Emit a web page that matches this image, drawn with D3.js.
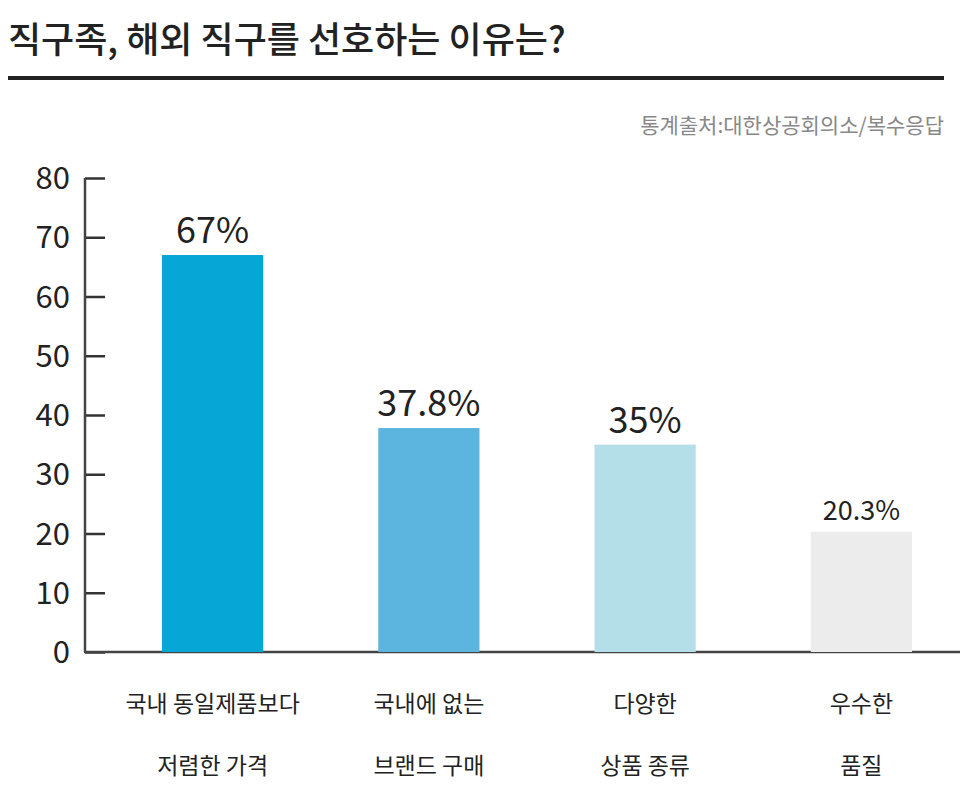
<!DOCTYPE html>
<html><head><meta charset="utf-8">
<script src="https://cdn.jsdelivr.net/npm/d3@7"></script>
<style>body{margin:0;background:#fff}text{font-family:"Noto Sans CJK KR","Liberation Sans Narrow",sans-serif}</style>
</head><body><svg id="c" width="966" height="786"></svg>
<script>
const categories = [["국내 동일제품보다","저렴한 가격"],["국내에 없는","브랜드 구매"],["다양한","상품 종류"],["우수한","품질"]];
const values = [67, 37.8, 35, 20.3];
const valueLabels = ["67%","37.8%","35%","20.3%"];
const colors = ["#06a6d6","#5bb5df","#b5dfe8","#ececec"];
const yTicks = [0,10,20,30,40,50,60,70,80];

const svg = d3.select("#c");
svg.append("text").attr("x",8).attr("y",53).attr("font-size",36).attr("font-weight",500).attr("fill","#222").text("직구족, 해외 직구를 선호하는 이유는?");
svg.append("rect").attr("x",8).attr("y",76).attr("width",936).attr("height",4).attr("fill","#222");
svg.append("text").attr("x",944).attr("y",133).attr("text-anchor","end").attr("font-size",21).attr("fill","#888").text("통계출처:대한상공회의소/복수응답");

const y = d3.scaleLinear().domain([0,80]).range([652,178]);
const x = d3.scaleBand().domain(d3.range(values.length)).range([104.5,969.5]).paddingInner(0.532).paddingOuter(0.266);

const ax = svg.append("g").attr("transform","translate(85,0)")
  .call(d3.axisRight(y).tickValues(yTicks).tickSize(20).tickFormat(""));
ax.select(".domain").remove();
ax.selectAll("line").attr("stroke","#333").attr("stroke-width",2.5);
svg.append("line").attr("x1",85).attr("x2",85).attr("y1",178).attr("y2",652).attr("stroke","#444").attr("stroke-width",2.5);
svg.append("line").attr("x1",84).attr("x2",960).attr("y1",652).attr("y2",652).attr("stroke","#444").attr("stroke-width",2.5);
svg.selectAll(".yl").data(yTicks).join("text").attr("x",70).attr("y",d=>y(d)+11).attr("text-anchor","end")
  .attr("font-size",31).attr("font-family","'Liberation Sans Narrow','DejaVu Sans Condensed',sans-serif").attr("fill","#222").text(d=>d);

svg.selectAll(".bar").data(values).join("rect").attr("x",(d,i)=>x(i)).attr("width",x.bandwidth())
  .attr("y",d=>y(d)).attr("height",d=>y(0)-y(d)).attr("fill",(d,i)=>colors[i]);
svg.selectAll(".vl").data(values).join("text").attr("x",(d,i)=>x(i)+x.bandwidth()/2).attr("y",d=>y(d)-12)
  .attr("text-anchor","middle").attr("font-size",(d,i)=>i===3?27:36).attr("fill","#222")
  .attr("font-family","'Liberation Sans Narrow','DejaVu Sans Condensed',sans-serif").text((d,i)=>valueLabels[i]);
categories.forEach((c,i)=>{
  c.forEach((t,j)=>svg.append("text").attr("x",x(i)+x.bandwidth()/2).attr("y",712+j*62).attr("text-anchor","middle")
    .attr("font-size",23).attr("fill","#222").text(t));
});
</script></body></html>
